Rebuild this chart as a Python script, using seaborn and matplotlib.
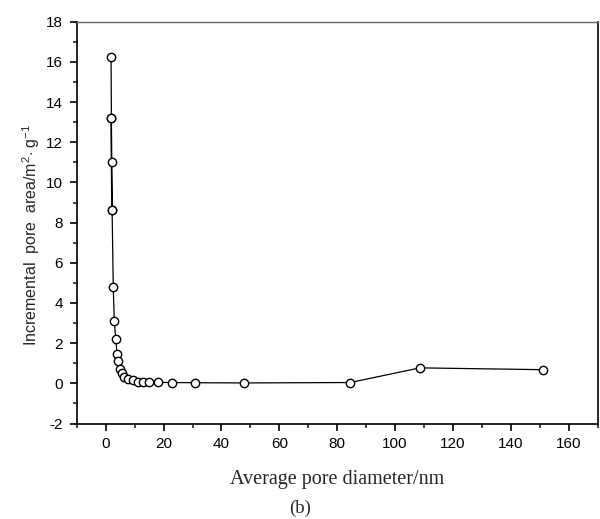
import numpy as np
import pandas as pd
import matplotlib
matplotlib.use("Agg")
import matplotlib.pyplot as plt
from matplotlib.ticker import MultipleLocator
import seaborn as sns

# pore size distribution
pore_diameter = [1.85, 1.95, 2.05, 1.95, 2.0, 2.2, 2.6, 2.95, 3.45, 3.9, 4.35, 4.95,
                 5.6, 6.4, 7.8, 9.3, 11.1, 12.8, 14.8, 17.9, 22.9, 30.9, 47.7,
                 84.5, 108.6, 151.1]
pore_area = [16.25, 13.2, 8.65, 13.2, 11.0, 8.65, 4.8, 3.12, 2.22, 1.48, 1.1, 0.72,
             0.5, 0.33, 0.22, 0.15, 0.08, 0.06, 0.05, 0.05, 0.04, 0.03, 0.02,
             0.04, 0.77, 0.68]

df = pd.DataFrame({"d": pore_diameter, "a": pore_area})

sns.set_style("ticks")
plt.rcParams["font.family"] = ["Liberation Sans", "DejaVu Sans"]
plt.rcParams["mathtext.fontset"] = "custom"
plt.rcParams["mathtext.rm"] = "Liberation Sans"
plt.rcParams["mathtext.it"] = "Liberation Sans"
plt.rcParams["axes.unicode_minus"] = False

fig = plt.figure(figsize=(6, 5.19), dpi=100)
ax = fig.add_axes([0.128, 0.184, 0.868, 0.774])

sns.lineplot(data=df, x="d", y="a", sort=False, estimator=None, ax=ax,
             color="black", linewidth=0.9, marker="o", markersize=6,
             markerfacecolor="white", markeredgecolor="black", markeredgewidth=1.0)

ax.set_xlim(-10, 170)
ax.set_ylim(-2, 18)
ax.xaxis.set_major_locator(MultipleLocator(20))
ax.xaxis.set_minor_locator(MultipleLocator(10))
ax.yaxis.set_major_locator(MultipleLocator(2))
ax.yaxis.set_minor_locator(MultipleLocator(1))
ax.tick_params(which="major", direction="out", length=5, width=1.2, labelsize=11,
               colors="black", pad=5)
ax.tick_params(which="minor", direction="out", length=3, width=1.2)

for s in ["left", "bottom", "right"]:
    ax.spines[s].set_visible(True)
    ax.spines[s].set_color("black")
    ax.spines[s].set_linewidth(1.2)
ax.spines["top"].set_visible(True)
ax.spines["top"].set_color("#666666")
ax.spines["top"].set_linewidth(1.0)

ax.set_xlabel("Average pore diameter/nm", family="Liberation Serif", fontsize=14.5)
ax.xaxis.set_label_coords(0.5, -0.115)
ax.set_ylabel(r"Incremental  pore  area/m$^{2}$$\cdot$ g$^{-1}$", fontsize=11.5)
ax.yaxis.set_label_coords(-0.066, 0.47)

fig.text(0.5, 0.004, "(b)", family="Liberation Serif", fontsize=13.5, ha="center", va="bottom")

fig.savefig("out.png", dpi=100)
